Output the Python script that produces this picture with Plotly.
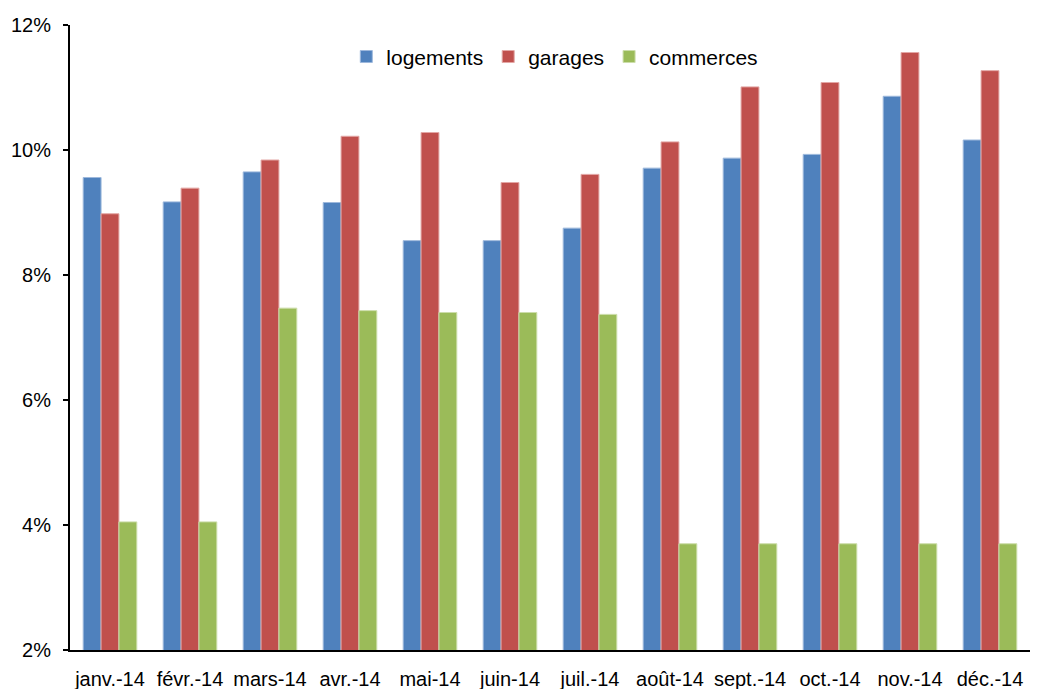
import plotly.graph_objects as go

# Monthly rates (%) for 2014
mois = ["janv.-14", "févr.-14", "mars-14", "avr.-14", "mai-14", "juin-14",
        "juil.-14", "août-14", "sept.-14", "oct.-14", "nov.-14", "déc.-14"]
logements = [9.56, 9.17, 9.65, 9.16, 8.55, 8.55, 8.75, 9.71, 9.87, 9.93, 10.86, 10.16]
garages = [8.98, 9.39, 9.84, 10.22, 10.28, 9.48, 9.61, 10.13, 11.01, 11.08, 11.56, 11.27]
commerces = [4.05, 4.05, 7.47, 7.43, 7.40, 7.40, 7.37, 3.70, 3.70, 3.70, 3.70, 3.70]

series = [
    ("logements", logements, "#4F81BD", "#9DB8DC"),
    ("garages", garages, "#C0504D", "#E3A7A5"),
    ("commerces", commerces, "#9BBB59", "#CCDDAA"),
]

fig = go.Figure()
for name, vals, color, edge in series:
    fig.add_trace(go.Bar(
        x=mois, y=[v / 100 for v in vals], name=name,
        marker=dict(color=color, line=dict(color=edge, width=1)),
    ))

fig.update_layout(
    width=1037, height=689,
    margin=dict(l=70, r=7, t=25, b=39),
    paper_bgcolor="white", plot_bgcolor="white",
    barmode="group", bargap=0.33, bargroupgap=0,
    font=dict(family="Liberation Sans, Arial, sans-serif", size=20, color="#000000"),
    showlegend=True,
    legend=dict(orientation="h", x=0.505, xanchor="center", y=0.949, yanchor="middle",
                bgcolor="rgba(0,0,0,0)", font=dict(size=21), itemwidth=30,
                tracegroupgap=0),
    xaxis=dict(showline=True, linecolor="#000000", linewidth=2, ticks="",
               showgrid=False, tickfont=dict(size=20), ticklabelstandoff=10,
               range=[-0.5, 11.5], automargin=False),
    yaxis=dict(range=[0.02, 0.12], tickvals=[0.02, 0.04, 0.06, 0.08, 0.10, 0.12],
               tickformat=".0%", showline=True, linecolor="#000000", linewidth=2,
               ticks="outside", ticklen=5, tickwidth=2, tickcolor="#000000",
               showgrid=False, zeroline=False, tickfont=dict(size=20),
               ticklabelstandoff=8, automargin=False),
)

fig.write_html("out.html")
